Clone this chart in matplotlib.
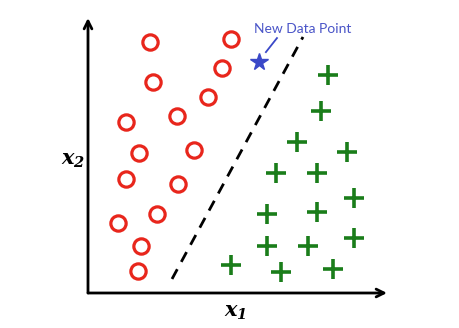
import numpy as np
import matplotlib
matplotlib.use('Agg')
import matplotlib.pyplot as plt

# clase 1 (circulos rojos)
red_x = [2.07, 4.78, 2.17, 4.48, 4.01, 2.98, 1.27, 1.71, 3.55, 1.27, 3.01, 2.31, 1.00, 1.77, 1.67]
red_y = [9.13, 9.24, 7.67, 8.18, 7.13, 6.44, 6.22, 5.09, 5.20, 4.15, 3.96, 2.87, 2.55, 1.71, 0.80]

# clase 2 (cruces verdes)
green_x = [8.03, 7.79, 6.99, 8.66, 6.29, 7.66, 8.90, 5.99, 7.66, 8.90, 5.99, 7.36, 6.45, 8.19, 4.78]
green_y = [7.93, 6.62, 5.49, 5.13, 4.36, 4.36, 3.45, 2.87, 2.95, 2.00, 1.71, 1.71, 0.76, 0.87, 1.02]

# punto nuevo y frontera
new_point = (5.72, 8.40)
boundary_x = [2.81, 7.19]
boundary_y = [0.51, 9.31]
label_text = 'New Data Point'

plt.rcParams['mathtext.fontset'] = 'custom'
plt.rcParams['mathtext.it'] = 'DejaVu Serif:italic:bold'
plt.rcParams['mathtext.rm'] = 'DejaVu Serif:italic:bold'

fig = plt.figure(figsize=(4.6, 3.28), dpi=100)
ax = fig.add_axes([88/460, (328-293)/328, (387-88)/460, (293-18)/328])
ax.set_xlim(0, 10)
ax.set_ylim(0, 10)
ax.axis('off')

# ejes con flechas
ax.annotate('', xy=(1.0, 0), xytext=(0, 0), xycoords='axes fraction',
            arrowprops=dict(arrowstyle='->', lw=2, color='black', mutation_scale=14, shrinkA=0, shrinkB=0))
ax.annotate('', xy=(0, 1.0), xytext=(0, 0), xycoords='axes fraction',
            arrowprops=dict(arrowstyle='->', lw=2, color='black', mutation_scale=14, shrinkA=0, shrinkB=0))

ax.plot(boundary_x, boundary_y, linestyle=(0, (4, 3)), color='black', lw=2)

ax.plot(red_x, red_y, 'o', ms=11, mfc='none', mec='#e8261c', mew=2.3, linestyle='none')
ax.plot(green_x, green_y, '+', ms=14, mec='#1a7d1a', mew=2.6, linestyle='none')
ax.plot(*new_point, '*', ms=13, color='#3a48c8', linestyle='none')

ax.plot([6.32, 5.95], [9.27, 8.76], color='#3a48c8', lw=1.3)
ax.text(5.55, 9.60, label_text, color='#4a55c8', fontsize=10, family='Lato',
        ha='left', va='center')

fig.text(73/460, 1 - 160/328, r'$x_2$', fontsize=15, ha='center', va='center')
fig.text(235/460, 1 - 312/328, r'$x_1$', fontsize=15, ha='center', va='center')

fig.savefig('out.png', dpi=100)
